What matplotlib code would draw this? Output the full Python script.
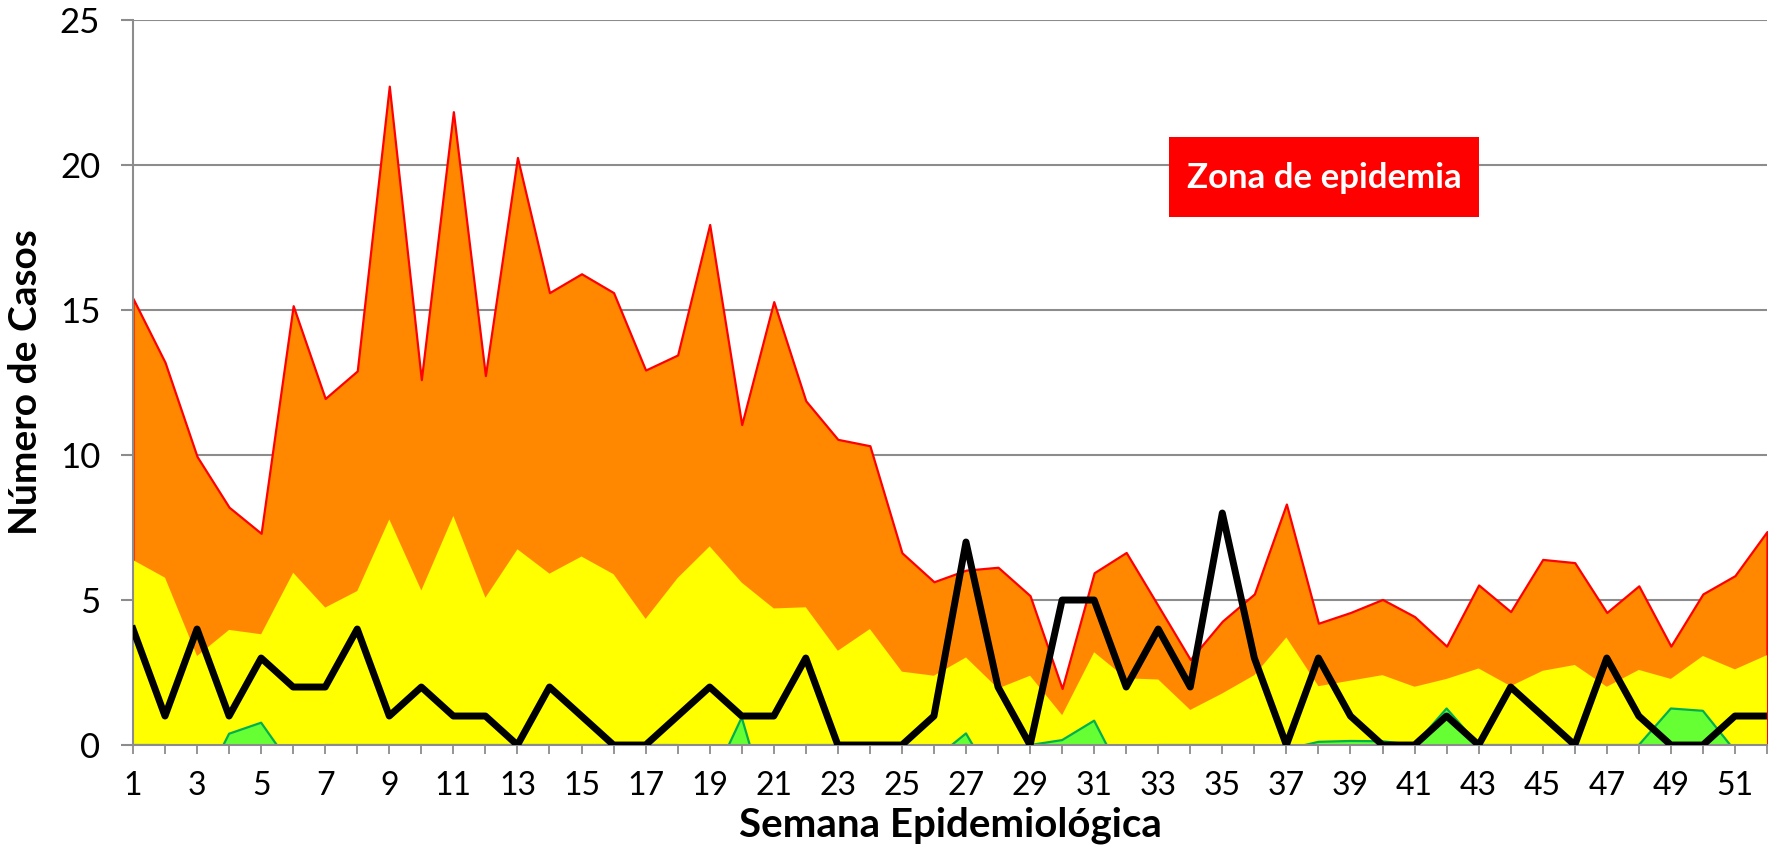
import numpy as np
import matplotlib
matplotlib.use('Agg')
import matplotlib.pyplot as plt
from matplotlib.patches import Rectangle

plt.rcParams['font.family'] = ['Lato', 'DejaVu Sans']

# weeks 1..52
semanas = np.arange(1, 53)

# upper limit of epidemic zone (red line / orange area)
zona_epidemia = [15.4, 13.2, 9.95, 8.2, 7.3, 15.15, 11.95, 12.9, 22.72, 12.6,
                 21.84, 12.74, 20.26, 15.6, 16.25, 15.6, 12.93, 13.45, 17.95, 11.05,
                 15.29, 11.87, 10.54, 10.32, 6.63, 5.63, 6.03, 6.13, 5.15, 1.95,
                 5.94, 6.64, 4.8, 2.95, 4.27, 5.21, 8.31, 4.2, 4.57, 5.02,
                 4.43, 3.41, 5.52, 4.6, 6.4, 6.29, 4.57, 5.49, 3.41, 5.21,
                 5.84, 7.36]

# security zone (yellow area)
zona_seguridad = [6.38, 5.77, 3.07, 3.97, 3.82, 5.94, 4.74, 5.31, 7.78, 5.33,
                  7.9, 5.08, 6.75, 5.91, 6.5, 5.89, 4.35, 5.76, 6.85, 5.6,
                  4.71, 4.75, 3.25, 4.0, 2.53, 2.39, 3.02, 1.95, 2.39, 1.03,
                  3.2, 2.3, 2.26, 1.21, 1.78, 2.41, 3.71, 2.03, 2.22, 2.41,
                  2.01, 2.28, 2.64, 2.03, 2.56, 2.76, 2.01, 2.59, 2.28, 3.07,
                  2.61, 3.1]

# success zone (green area), negative values fall below the axis
zona_exito = [0, 0, -1.8, 0.39, 0.77, -0.8, 0, 0, 0, 0,
              0, 0, 0, 0, 0, 0, 0, 0, -1.4, 0.95,
              -2.8, 0, 0, 0, 0, -0.5, 0.4, -1.5, 0, 0.17,
              0.84, -1.3, 0, 0, 0, 0, -0.15, 0.11, 0.14, 0.13,
              0, 1.26, 0, 0, 0, 0, 0, 0, 1.26, 1.18,
              -0.2, 0]

# observed cases
casos = [4, 1, 4, 1, 3, 2, 2, 4, 1, 2,
         1, 1, 0, 2, 1, 0, 0, 1, 2, 1,
         1, 3, 0, 0, 0, 1, 7, 2, 0, 5,
         5, 2, 4, 2, 8, 3, 0, 3, 1, 0,
         0, 1, 0, 2, 1, 0, 3, 1, 0, 0,
         1, 1]

fig = plt.figure(figsize=(17.73, 8.63), dpi=100)
ax = fig.add_axes([0.075, 0.1367, 0.9216, 0.8401])

gris = '#8c8c8c'

ax.fill_between(semanas, 0, zona_epidemia, facecolor='#ff8800', edgecolor='#ff0000',
                linewidth=1.6, zorder=2)
ax.fill_between(semanas, 0, zona_seguridad, facecolor='#ffff00', linewidth=0, zorder=3)
ax.fill_between(semanas, 0, zona_exito, facecolor='#66ff33', linewidth=0, zorder=4)
ax.plot(semanas, zona_exito, color='#00b050', lw=1.6, zorder=5)
ax.axhline(0, color='#66ff33', lw=2, zorder=5)
ax.plot(semanas, casos, color='black', lw=5, solid_joinstyle='round', zorder=7)

ax.set_xlim(1, 52)
ax.set_ylim(0, 25)
ax.set_yticks(range(0, 26, 5))
ax.set_xticks(semanas)
ax.set_xticklabels([str(s) if s % 2 == 1 else '' for s in semanas])

ax.grid(axis='y', color=gris, lw=1.5, zorder=1)
ax.set_axisbelow(True)
for side in ['top', 'right']:
    ax.spines[side].set_visible(False)
for side in ['left', 'bottom']:
    ax.spines[side].set_color(gris)
    ax.spines[side].set_linewidth(1.5)
    ax.spines[side].set_zorder(6)

ax.tick_params(axis='x', direction='inout', length=13.4, width=1.3, color=gris,
               labelsize=23, pad=12)
ax.tick_params(axis='y', direction='out', length=8.6, width=1.5, color=gris,
               labelsize=25, pad=15)

ax.set_xlabel('Semana Epidemiológica', fontsize=29, fontweight='bold', labelpad=4)
ax.set_ylabel('Número de Casos', fontsize=28, fontweight='bold', labelpad=12)

# label box for the epidemic zone
ax.add_patch(Rectangle((33.35, 18.2), 9.65, 2.75, facecolor='#ff0000',
                       edgecolor='none', zorder=8))
ax.text(38.18, 19.55, 'Zona de epidemia', color='white', fontsize=25,
        fontweight='bold', ha='center', va='center', zorder=9)

fig.savefig('out.png', dpi=100)
